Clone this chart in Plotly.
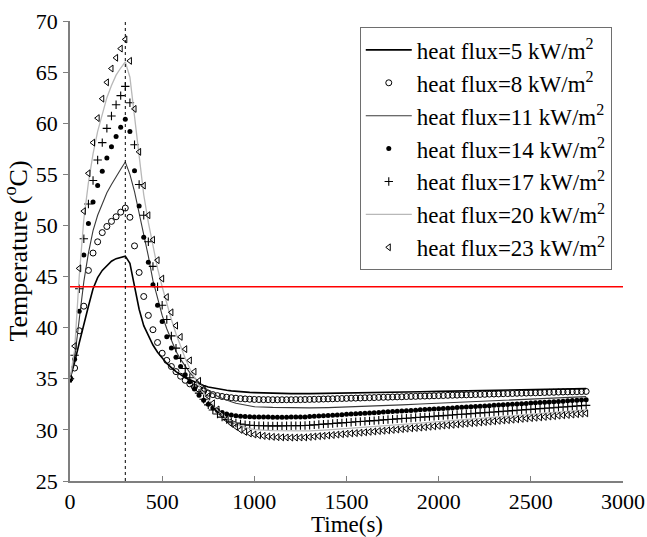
import plotly.graph_objects as go

# ---- data ----
time_markers = list(range(0, 2801, 25))
time_lines = list(range(0, 1001, 25)) + list(range(1100, 2801, 100))

temp_5kw = [35.0, 36.6, 38.5, 40.4, 42.1, 43.8, 44.9, 45.6, 46.1, 46.5, 46.75, 46.9, 47.0,
            46.3, 44.1, 41.8, 40.2, 39.2, 38.3, 37.6, 37.0, 36.5, 36.1, 35.7, 35.4, 35.1, 34.9,
            34.7, 34.5, 34.35, 34.2, 34.1, 34.0, 33.93, 33.87, 33.82, 33.77, 33.73, 33.7, 33.67, 33.65,
            33.58, 33.55, 33.55, 33.57, 33.6, 33.63, 33.66, 33.7, 33.73, 33.77, 33.8, 33.84, 33.87,
            33.9, 33.94, 33.97, 34.0, 34.04]

temp_8kw = [35.0, 36.05, 39.7, 42.1, 45.6, 47.3, 48.4, 49.3, 49.9, 50.4, 50.85, 51.3, 51.7,
            50.8, 48.0, 45.4, 43.05, 41.2, 39.8, 38.55, 37.5, 36.8, 36.2, 35.7, 35.25, 34.85, 34.5,
            34.2, 34.0, 33.8, 33.6, 33.45, 33.35, 33.27, 33.2, 33.15, 33.1, 33.06, 33.03, 33.0, 32.98,
            32.97, 32.96, 32.96, 32.95, 32.95, 32.95, 32.95, 32.95, 32.96, 32.96,
            32.97, 32.98, 32.99, 33.0, 33.02, 33.03, 33.04, 33.06, 33.07, 33.08,
            33.1, 33.11, 33.12, 33.14, 33.15, 33.16, 33.18, 33.19, 33.2, 33.22,
            33.23, 33.24, 33.26, 33.27, 33.28, 33.3, 33.31, 33.32, 33.34, 33.35,
            33.36, 33.38, 33.39, 33.4, 33.42, 33.43, 33.44, 33.46, 33.47, 33.48,
            33.5, 33.51, 33.52, 33.54, 33.55, 33.56, 33.58, 33.59, 33.6, 33.62,
            33.63, 33.64, 33.66, 33.67, 33.68, 33.7, 33.71, 33.72, 33.73, 33.74,
            33.75, 33.76]

temp_11kw = [35.0, 37.0, 40.8, 44.5, 47.3, 49.5, 51.0, 52.2, 53.2, 54.0, 54.8, 55.5, 56.2,
             55.0, 53.3, 51.3, 49.2, 47.0, 44.6, 42.8, 41.2, 39.9, 38.7, 37.7, 36.9, 36.2, 35.6,
             35.1, 34.6, 34.2, 33.85, 33.55, 33.3, 33.1, 32.9, 32.75, 32.6, 32.5, 32.4, 32.33, 32.27,
             32.2, 32.15, 32.15, 32.18, 32.23, 32.3, 32.37, 32.45, 32.53, 32.61, 32.69, 32.77, 32.85,
             32.93, 33.01, 33.09, 33.17, 33.25]

temp_14kw = [35.0, 36.9, 41.6, 47.1, 50.2, 52.3, 53.9, 55.3, 56.6, 57.7, 58.7, 59.6, 60.4,
             59.2, 55.35, 51.9, 48.85, 46.4, 44.2, 42.2, 40.6, 39.1, 38.0, 37.1, 36.2, 35.4, 34.7,
             34.0, 33.4, 32.9, 32.5, 32.15, 31.9, 31.7, 31.55, 31.45, 31.38, 31.33, 31.3, 31.28, 31.27,
             31.26, 31.25, 31.25, 31.24, 31.24, 31.24, 31.24, 31.25, 31.25, 31.26,
             31.27, 31.3, 31.33, 31.35, 31.38, 31.41, 31.44, 31.46, 31.49, 31.52,
             31.55, 31.57, 31.6, 31.63, 31.66, 31.68, 31.71, 31.74, 31.77, 31.79,
             31.82, 31.85, 31.88, 31.9, 31.93, 31.96, 31.99, 32.01, 32.04, 32.07,
             32.1, 32.12, 32.15, 32.18, 32.21, 32.23, 32.26, 32.29, 32.32, 32.34,
             32.37, 32.4, 32.43, 32.45, 32.48, 32.51, 32.54, 32.56, 32.59, 32.62,
             32.65, 32.67, 32.7, 32.73, 32.76, 32.78, 32.81, 32.84, 32.87, 32.89,
             32.92, 32.95]

temp_17kw = [35.0, 37.3, 43.8, 48.7, 52.1, 54.4, 56.4, 58.1, 59.5, 60.7, 61.8, 62.7, 63.6,
             62.0, 57.9, 54.0, 51.0, 48.4, 46.0, 44.0, 42.2, 40.8, 39.2, 38.0, 37.0, 36.0, 35.1,
             34.3, 33.6, 33.0, 32.45, 31.95, 31.55, 31.25, 31.0, 30.8, 30.67, 30.57, 30.5, 30.46, 30.43,
             30.41, 30.4, 30.39, 30.39, 30.39, 30.39, 30.4, 30.41, 30.42, 30.42,
             30.43, 30.46, 30.49, 30.53, 30.56, 30.59, 30.62, 30.66, 30.69, 30.72,
             30.75, 30.79, 30.82, 30.85, 30.88, 30.91, 30.95, 30.98, 31.01, 31.04,
             31.08, 31.11, 31.14, 31.17, 31.21, 31.24, 31.27, 31.3, 31.33, 31.37,
             31.4, 31.43, 31.46, 31.5, 31.53, 31.56, 31.59, 31.63, 31.66, 31.69,
             31.72, 31.75, 31.79, 31.82, 31.85, 31.88, 31.92, 31.95, 31.98, 32.01,
             32.05, 32.08, 32.11, 32.14, 32.17, 32.21, 32.24, 32.27, 32.3, 32.34,
             32.37, 32.4]

temp_20kw = [35.0, 37.8, 45.0, 50.6, 54.2, 57.0, 59.2, 61.0, 62.5, 63.7, 64.7, 65.4, 66.0,
             64.5, 60.5, 56.5, 53.0, 50.3, 47.9, 45.8, 44.0, 42.3, 40.8, 39.4, 38.1, 37.0, 36.0,
             35.1, 34.3, 33.6, 33.0, 32.45, 31.95, 31.5, 31.15, 30.85, 30.6, 30.4, 30.25, 30.12, 30.02,
             29.92, 29.88, 29.9, 30.0, 30.12, 30.25, 30.39, 30.53, 30.67, 30.81, 30.95, 31.09, 31.23,
             31.37, 31.51, 31.65, 31.8, 31.95]

temp_23kw = [35.0, 38.2, 45.8, 51.4, 55.1, 58.1, 60.5, 62.4, 64.0, 65.35, 66.4, 67.3, 68.2,
             66.1, 61.4, 57.2, 53.9, 51.0, 48.6, 46.6, 44.8, 43.0, 41.5, 40.2, 39.1, 37.9, 36.8,
             35.7, 34.8, 34.0, 33.3, 32.6, 32.0, 31.5, 31.0, 30.6, 30.3, 30.0, 29.8, 29.65, 29.55,
             29.47, 29.41, 29.36, 29.32, 29.29, 29.27, 29.26, 29.25, 29.25, 29.26,
             29.27, 29.31, 29.35, 29.39, 29.42, 29.46, 29.5, 29.54, 29.58, 29.62,
             29.66, 29.69, 29.73, 29.77, 29.81, 29.85, 29.89, 29.92, 29.96, 30.0,
             30.04, 30.08, 30.12, 30.16, 30.19, 30.23, 30.27, 30.31, 30.35, 30.39,
             30.43, 30.46, 30.5, 30.54, 30.58, 30.62, 30.66, 30.69, 30.73, 30.77,
             30.81, 30.85, 30.89, 30.93, 30.96, 31.0, 31.04, 31.08, 31.12, 31.16,
             31.19, 31.23, 31.27, 31.31, 31.35, 31.39, 31.43, 31.46, 31.5, 31.54,
             31.58, 31.62]

threshold_temp = 44.0
switch_time = 300

x_ticks = [0, 500, 1000, 1500, 2000, 2500, 3000]
y_ticks = [25, 30, 35, 40, 45, 50, 55, 60, 65, 70]

FONT = "Liberation Serif"
sup = "kW/m<sup>2</sup>"

fig = go.Figure()

def add_line(t, y, name, color, width, grp):
    fig.add_trace(go.Scatter(x=t, y=y, mode="lines", name=name, legendgroup=grp,
                             line=dict(color=color, width=width)))

def add_markers(t, y, name, symbol, size, grp, lw=1):
    fig.add_trace(go.Scatter(x=t, y=y, mode="markers", name=name, legendgroup=grp,
                             marker=dict(symbol=symbol, size=size, color="black",
                                         line=dict(color="black", width=lw))))

add_line(time_lines, temp_5kw, "heat flux=5 " + sup, "black", 1.6, "a")
add_markers(time_markers, temp_8kw, "heat flux=8 " + sup, "circle-open", 6, "b")
add_line(time_lines, temp_11kw, "heat flux=11 " + sup, "#3a3a3a", 1.1, "c")
add_markers(time_markers, temp_14kw, "heat flux=14 " + sup, "circle", 5, "d", lw=0)
add_markers(time_markers, temp_17kw, "heat flux=17 " + sup, "cross-thin", 6, "e", lw=1.1)
add_line(time_lines, temp_20kw, "heat flux=20 " + sup, "#b8b8b8", 1.3, "f")
add_markers(time_markers, temp_23kw, "heat flux=23 " + sup, "triangle-left-open", 6, "g")

# threshold line and switch-off line
fig.add_shape(type="line", xref="x", yref="y", x0=0, x1=3000, y0=threshold_temp, y1=threshold_temp,
              line=dict(color="#ff0000", width=1.5))
fig.add_shape(type="line", xref="x", yref="paper", x0=switch_time, x1=switch_time, y0=0, y1=1,
              line=dict(color="black", width=1, dash="dot"))

# x-axis title as an annotation for exact placement
fig.add_annotation(text="Time(s)", xref="paper", yref="paper", x=0.5, y=-0.094,
                   xanchor="center", yanchor="middle", showarrow=False,
                   font=dict(family=FONT, size=23, color="black"))

fig.update_layout(
    width=647, height=537,
    margin=dict(l=70, r=24, t=21, b=56, autoexpand=False),
    paper_bgcolor="white", plot_bgcolor="white",
    font=dict(family=FONT, size=22, color="black"),
    showlegend=True,
    legend=dict(x=0.524, y=0.986, xanchor="left", yanchor="top",
                bgcolor="white", bordercolor="#6e6e6e", borderwidth=1,
                font=dict(family=FONT, size=23, color="black"),
                traceorder="grouped", tracegroupgap=0, itemwidth=46),
)
fig.update_xaxes(range=[0, 3000], tickvals=x_ticks, showgrid=False, zeroline=False,
                 showline=True, linecolor="#7f7f7f", linewidth=1.5, automargin=False,
                 ticks="inside", ticklen=5, tickcolor="#7f7f7f",
                 tickfont=dict(family=FONT, size=22), ticklabelstandoff=0)
fig.update_yaxes(range=[25, 70], tickvals=y_ticks, showgrid=False, zeroline=False,
                 showline=True, linecolor="#7f7f7f", linewidth=1.5, automargin=False,
                 ticks="outside", ticklen=5, tickcolor="#7f7f7f",
                 tickfont=dict(family=FONT, size=22), ticklabelstandoff=1,
                 title=dict(text="Temperature (<sup>o</sup>C)", standoff=2, font=dict(family=FONT, size=26)))

fig.write_html("out.html", config={"displayModeBar": False},
               post_script="document.body.style.margin='0px';document.body.style.padding='0px';document.body.style.overflow='hidden';")
